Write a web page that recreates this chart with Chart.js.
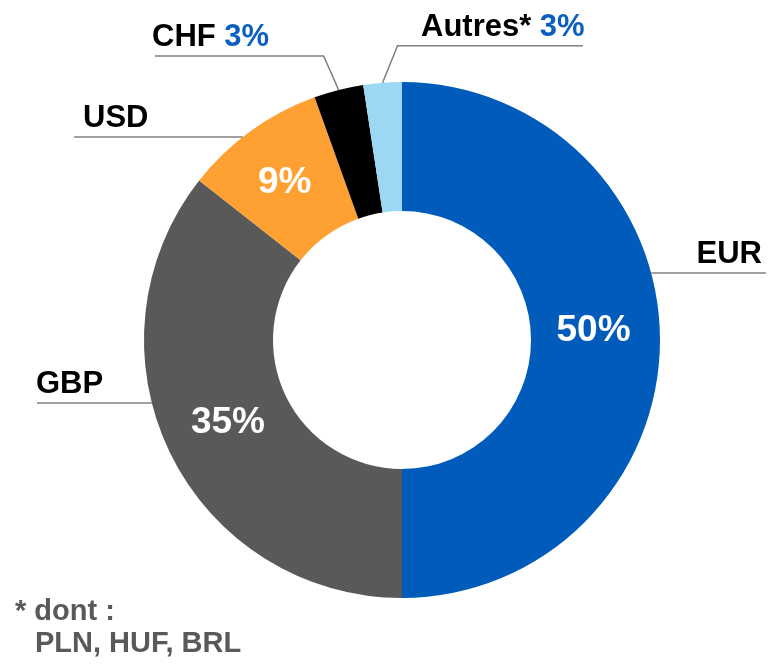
<!DOCTYPE html>
<html>
<head>
<meta charset="utf-8">
<script src="https://cdn.jsdelivr.net/npm/chart.js@4.4.1/dist/chart.umd.min.js"></script>
<style>
  html, body { margin: 0; padding: 0; background: #fff; }
  #wrap { position: relative; width: 772px; height: 670px; }
</style>
</head>
<body>
<div id="wrap"><canvas id="chart"></canvas></div>
<script>
// data
const categories = ['EUR', 'GBP', 'USD', 'CHF', 'Autres*'];
const shares = [50, 35.6, 8.9, 3.1, 2.4];
const shareLabels = ['50%', '35%', '9%', '3%', '3%'];
const colors = ['#005BBB', '#595959', '#FFA032', '#000000', '#9CD8F4'];
const footnoteLines = ['* dont :', 'PLN, HUF, BRL'];

// where the name labels and leader lines go
const labelLayout = {
    'EUR': { side: 'right', lineY: 273, lineEnd: 766, textX: 762, nudge: [-2, -10] },
    'GBP': { side: 'left', lineY: 403, lineEnd: 37, textX: 36, nudge: [0, -3] },
    'USD': { side: 'left', lineY: 137, lineEnd: 74, textX: 83, nudge: [-4, -1] },
    'CHF': { elbow: [-15, -34], lineEnd: 155, textX: 152, pctOutside: true },
    'Autres*': { elbow: [15, -37], lineEnd: 583, textX: 421, pctOutside: true }
};

const FONT = '"Liberation Sans", Arial, sans-serif';
const PCT_BLUE = '#0B5FC1';

const labelPlugin = {
    id: 'sliceLabels',
    afterDatasetsDraw(chart) {
        const ctx = chart.ctx;
        const arcs = chart.getDatasetMeta(0).data;
        ctx.save();
        arcs.forEach((arc, i) => {
            const { x: cx, y: cy, startAngle, endAngle, innerRadius, outerRadius } = arc.getProps(
                ['x', 'y', 'startAngle', 'endAngle', 'innerRadius', 'outerRadius'], true);
            const mid = (startAngle + endAngle) / 2;
            const lay = labelLayout[categories[i]];

            // percentage inside the ring
            if (!lay.pctOutside) {
                const r = (innerRadius + outerRadius) / 2;
                ctx.font = 'bold 37px ' + FONT;
                ctx.fillStyle = '#fff';
                ctx.textAlign = 'center';
                ctx.textBaseline = 'middle';
                ctx.fillText(shareLabels[i],
                    cx + r * Math.cos(mid) + lay.nudge[0],
                    cy + r * Math.sin(mid) + 1 + lay.nudge[1]);
            }

            // leader line
            let lineY, pts;
            if (lay.elbow) {
                const ax = cx + outerRadius * Math.cos(mid);
                const ay = cy + outerRadius * Math.sin(mid);
                const ex = ax + lay.elbow[0];
                lineY = ay + lay.elbow[1];
                pts = [[ax, ay], [ex, lineY], [lay.lineEnd, lineY]];
            } else {
                lineY = lay.lineY;
                const dy = lineY - cy;
                const dx = Math.sqrt(outerRadius * outerRadius - dy * dy);
                const ax = lay.side === 'right' ? cx + dx : cx - dx;
                pts = [[ax, lineY], [lay.lineEnd, lineY]];
            }
            ctx.strokeStyle = '#808080';
            ctx.lineWidth = 1.5;
            ctx.beginPath();
            pts.forEach((p, k) => k ? ctx.lineTo(p[0], p[1]) : ctx.moveTo(p[0], p[1]));
            ctx.stroke();

            // name (+ blue percentage for the small slices)
            ctx.font = 'bold 31px ' + FONT;
            ctx.textBaseline = 'alphabetic';
            const base = lineY - 10;
            if (lay.side === 'right') {
                ctx.textAlign = 'right';
                ctx.fillStyle = '#000';
                ctx.fillText(categories[i], lay.textX, base);
            } else {
                ctx.textAlign = 'left';
                ctx.fillStyle = '#000';
                const name = lay.pctOutside ? categories[i] + ' ' : categories[i];
                ctx.fillText(name, lay.textX, base);
                if (lay.pctOutside) {
                    ctx.fillStyle = PCT_BLUE;
                    ctx.fillText(shareLabels[i], lay.textX + ctx.measureText(name).width, base);
                }
            }
        });

        // footnote
        ctx.font = 'bold 29px ' + FONT;
        ctx.fillStyle = '#595959';
        ctx.textAlign = 'left';
        ctx.textBaseline = 'alphabetic';
        ctx.fillText(footnoteLines[0], 15, 620);
        ctx.fillText(footnoteLines[1], 35, 652);
        ctx.restore();
    }
};

new Chart(document.getElementById('chart'), {
    type: 'doughnut',
    data: {
        labels: categories,
        datasets: [{
            data: shares,
            backgroundColor: colors,
            borderWidth: 0
        }]
    },
    options: {
        responsive: true,
        maintainAspectRatio: false,
        animation: false,
        cutout: '50%',
        layout: { padding: { top: 82, bottom: 72, left: 144, right: 112 } },
        plugins: {
            legend: { display: false },
            tooltip: { enabled: false }
        }
    },
    plugins: [labelPlugin]
});
</script>
</body>
</html>
